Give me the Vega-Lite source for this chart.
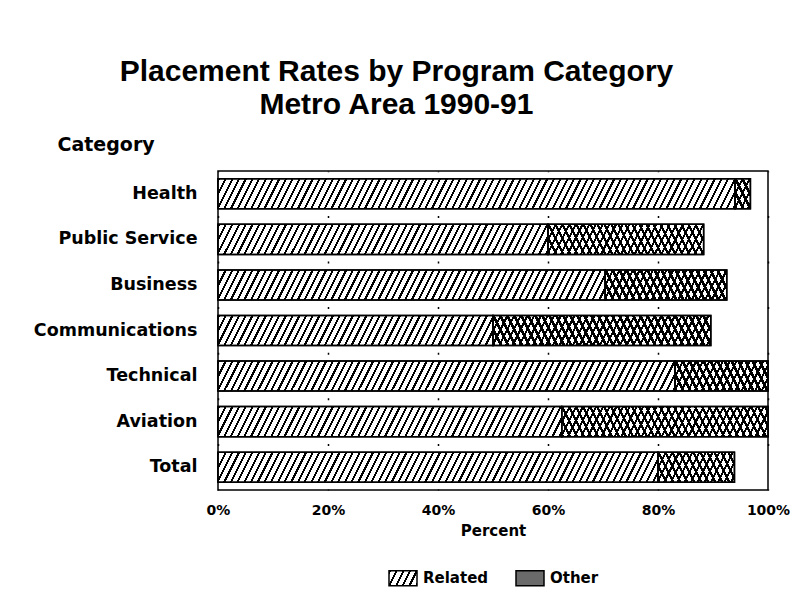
{
  "$schema": "https://vega.github.io/schema/vega-lite/v6.json",
  "width": 550,
  "height": 319,
  "autosize": {"type": "none"},
  "padding": {"left": 218, "top": 171, "right": 35, "bottom": 119},
  "background": "white",
  "title": {
    "text": ["Placement Rates by Program Category", "Metro Area 1990-91"],
    "font": "Liberation Sans", "fontSize": 30, "fontWeight": "bold", "color": "black",
    "anchor": "middle", "frame": "bounds", "lineHeight": 33, "offset": 15, "dx": -15
  },
  "params": [
    {"name": "legendA", "value": {"gradient": "linear", "x1": 0, "y1": 0, "x2": 1.34, "y2": 0.359, "stops": [
      {"offset":0,"color":"#000"},{"offset":0.0533,"color":"#000"},{"offset":0.0533,"color":"#fff"},{"offset":0.1667,"color":"#fff"},
      {"offset":0.1667,"color":"#000"},{"offset":0.22,"color":"#000"},{"offset":0.22,"color":"#fff"},{"offset":0.3333,"color":"#fff"},
      {"offset":0.3333,"color":"#000"},{"offset":0.3867,"color":"#000"},{"offset":0.3867,"color":"#fff"},{"offset":0.5,"color":"#fff"},
      {"offset":0.5,"color":"#000"},{"offset":0.5533,"color":"#000"},{"offset":0.5533,"color":"#fff"},{"offset":0.6667,"color":"#fff"},
      {"offset":0.6667,"color":"#000"},{"offset":0.72,"color":"#000"},{"offset":0.72,"color":"#fff"},{"offset":0.8333,"color":"#fff"},
      {"offset":0.8333,"color":"#000"},{"offset":0.8867,"color":"#000"},{"offset":0.8867,"color":"#fff"},{"offset":1,"color":"#fff"}
    ]}},
    {"name": "stopsA", "value": [
{"offset":0,"color":"#000"},{"offset":0.004,"color":"#000"},{"offset":0.004,"color":"#fff"},{"offset":0.0125,"color":"#fff"},
{"offset":0.0125,"color":"#000"},{"offset":0.0165,"color":"#000"},{"offset":0.0165,"color":"#fff"},{"offset":0.025,"color":"#fff"},
{"offset":0.025,"color":"#000"},{"offset":0.029,"color":"#000"},{"offset":0.029,"color":"#fff"},{"offset":0.0375,"color":"#fff"},
{"offset":0.0375,"color":"#000"},{"offset":0.0415,"color":"#000"},{"offset":0.0415,"color":"#fff"},{"offset":0.05,"color":"#fff"},
{"offset":0.05,"color":"#000"},{"offset":0.054,"color":"#000"},{"offset":0.054,"color":"#fff"},{"offset":0.0625,"color":"#fff"},
{"offset":0.0625,"color":"#000"},{"offset":0.0665,"color":"#000"},{"offset":0.0665,"color":"#fff"},{"offset":0.075,"color":"#fff"},
{"offset":0.075,"color":"#000"},{"offset":0.079,"color":"#000"},{"offset":0.079,"color":"#fff"},{"offset":0.0875,"color":"#fff"},
{"offset":0.0875,"color":"#000"},{"offset":0.0915,"color":"#000"},{"offset":0.0915,"color":"#fff"},{"offset":0.1,"color":"#fff"},
{"offset":0.1,"color":"#000"},{"offset":0.104,"color":"#000"},{"offset":0.104,"color":"#fff"},{"offset":0.1125,"color":"#fff"},
{"offset":0.1125,"color":"#000"},{"offset":0.1165,"color":"#000"},{"offset":0.1165,"color":"#fff"},{"offset":0.125,"color":"#fff"},
{"offset":0.125,"color":"#000"},{"offset":0.129,"color":"#000"},{"offset":0.129,"color":"#fff"},{"offset":0.1375,"color":"#fff"},
{"offset":0.1375,"color":"#000"},{"offset":0.1415,"color":"#000"},{"offset":0.1415,"color":"#fff"},{"offset":0.15,"color":"#fff"},
{"offset":0.15,"color":"#000"},{"offset":0.154,"color":"#000"},{"offset":0.154,"color":"#fff"},{"offset":0.1625,"color":"#fff"},
{"offset":0.1625,"color":"#000"},{"offset":0.1665,"color":"#000"},{"offset":0.1665,"color":"#fff"},{"offset":0.175,"color":"#fff"},
{"offset":0.175,"color":"#000"},{"offset":0.179,"color":"#000"},{"offset":0.179,"color":"#fff"},{"offset":0.1875,"color":"#fff"},
{"offset":0.1875,"color":"#000"},{"offset":0.1915,"color":"#000"},{"offset":0.1915,"color":"#fff"},{"offset":0.2,"color":"#fff"},
{"offset":0.2,"color":"#000"},{"offset":0.204,"color":"#000"},{"offset":0.204,"color":"#fff"},{"offset":0.2125,"color":"#fff"},
{"offset":0.2125,"color":"#000"},{"offset":0.2165,"color":"#000"},{"offset":0.2165,"color":"#fff"},{"offset":0.225,"color":"#fff"},
{"offset":0.225,"color":"#000"},{"offset":0.229,"color":"#000"},{"offset":0.229,"color":"#fff"},{"offset":0.2375,"color":"#fff"},
{"offset":0.2375,"color":"#000"},{"offset":0.2415,"color":"#000"},{"offset":0.2415,"color":"#fff"},{"offset":0.25,"color":"#fff"},
{"offset":0.25,"color":"#000"},{"offset":0.254,"color":"#000"},{"offset":0.254,"color":"#fff"},{"offset":0.2625,"color":"#fff"},
{"offset":0.2625,"color":"#000"},{"offset":0.2665,"color":"#000"},{"offset":0.2665,"color":"#fff"},{"offset":0.275,"color":"#fff"},
{"offset":0.275,"color":"#000"},{"offset":0.279,"color":"#000"},{"offset":0.279,"color":"#fff"},{"offset":0.2875,"color":"#fff"},
{"offset":0.2875,"color":"#000"},{"offset":0.2915,"color":"#000"},{"offset":0.2915,"color":"#fff"},{"offset":0.3,"color":"#fff"},
{"offset":0.3,"color":"#000"},{"offset":0.304,"color":"#000"},{"offset":0.304,"color":"#fff"},{"offset":0.3125,"color":"#fff"},
{"offset":0.3125,"color":"#000"},{"offset":0.3165,"color":"#000"},{"offset":0.3165,"color":"#fff"},{"offset":0.325,"color":"#fff"},
{"offset":0.325,"color":"#000"},{"offset":0.329,"color":"#000"},{"offset":0.329,"color":"#fff"},{"offset":0.3375,"color":"#fff"},
{"offset":0.3375,"color":"#000"},{"offset":0.3415,"color":"#000"},{"offset":0.3415,"color":"#fff"},{"offset":0.35,"color":"#fff"},
{"offset":0.35,"color":"#000"},{"offset":0.354,"color":"#000"},{"offset":0.354,"color":"#fff"},{"offset":0.3625,"color":"#fff"},
{"offset":0.3625,"color":"#000"},{"offset":0.3665,"color":"#000"},{"offset":0.3665,"color":"#fff"},{"offset":0.375,"color":"#fff"},
{"offset":0.375,"color":"#000"},{"offset":0.379,"color":"#000"},{"offset":0.379,"color":"#fff"},{"offset":0.3875,"color":"#fff"},
{"offset":0.3875,"color":"#000"},{"offset":0.3915,"color":"#000"},{"offset":0.3915,"color":"#fff"},{"offset":0.4,"color":"#fff"},
{"offset":0.4,"color":"#000"},{"offset":0.404,"color":"#000"},{"offset":0.404,"color":"#fff"},{"offset":0.4125,"color":"#fff"},
{"offset":0.4125,"color":"#000"},{"offset":0.4165,"color":"#000"},{"offset":0.4165,"color":"#fff"},{"offset":0.425,"color":"#fff"},
{"offset":0.425,"color":"#000"},{"offset":0.429,"color":"#000"},{"offset":0.429,"color":"#fff"},{"offset":0.4375,"color":"#fff"},
{"offset":0.4375,"color":"#000"},{"offset":0.4415,"color":"#000"},{"offset":0.4415,"color":"#fff"},{"offset":0.45,"color":"#fff"},
{"offset":0.45,"color":"#000"},{"offset":0.454,"color":"#000"},{"offset":0.454,"color":"#fff"},{"offset":0.4625,"color":"#fff"},
{"offset":0.4625,"color":"#000"},{"offset":0.4665,"color":"#000"},{"offset":0.4665,"color":"#fff"},{"offset":0.475,"color":"#fff"},
{"offset":0.475,"color":"#000"},{"offset":0.479,"color":"#000"},{"offset":0.479,"color":"#fff"},{"offset":0.4875,"color":"#fff"},
{"offset":0.4875,"color":"#000"},{"offset":0.4915,"color":"#000"},{"offset":0.4915,"color":"#fff"},{"offset":0.5,"color":"#fff"},
{"offset":0.5,"color":"#000"},{"offset":0.504,"color":"#000"},{"offset":0.504,"color":"#fff"},{"offset":0.5125,"color":"#fff"},
{"offset":0.5125,"color":"#000"},{"offset":0.5165,"color":"#000"},{"offset":0.5165,"color":"#fff"},{"offset":0.525,"color":"#fff"},
{"offset":0.525,"color":"#000"},{"offset":0.529,"color":"#000"},{"offset":0.529,"color":"#fff"},{"offset":0.5375,"color":"#fff"},
{"offset":0.5375,"color":"#000"},{"offset":0.5415,"color":"#000"},{"offset":0.5415,"color":"#fff"},{"offset":0.55,"color":"#fff"},
{"offset":0.55,"color":"#000"},{"offset":0.554,"color":"#000"},{"offset":0.554,"color":"#fff"},{"offset":0.5625,"color":"#fff"},
{"offset":0.5625,"color":"#000"},{"offset":0.5665,"color":"#000"},{"offset":0.5665,"color":"#fff"},{"offset":0.575,"color":"#fff"},
{"offset":0.575,"color":"#000"},{"offset":0.579,"color":"#000"},{"offset":0.579,"color":"#fff"},{"offset":0.5875,"color":"#fff"},
{"offset":0.5875,"color":"#000"},{"offset":0.5915,"color":"#000"},{"offset":0.5915,"color":"#fff"},{"offset":0.6,"color":"#fff"},
{"offset":0.6,"color":"#000"},{"offset":0.604,"color":"#000"},{"offset":0.604,"color":"#fff"},{"offset":0.6125,"color":"#fff"},
{"offset":0.6125,"color":"#000"},{"offset":0.6165,"color":"#000"},{"offset":0.6165,"color":"#fff"},{"offset":0.625,"color":"#fff"},
{"offset":0.625,"color":"#000"},{"offset":0.629,"color":"#000"},{"offset":0.629,"color":"#fff"},{"offset":0.6375,"color":"#fff"},
{"offset":0.6375,"color":"#000"},{"offset":0.6415,"color":"#000"},{"offset":0.6415,"color":"#fff"},{"offset":0.65,"color":"#fff"},
{"offset":0.65,"color":"#000"},{"offset":0.654,"color":"#000"},{"offset":0.654,"color":"#fff"},{"offset":0.6625,"color":"#fff"},
{"offset":0.6625,"color":"#000"},{"offset":0.6665,"color":"#000"},{"offset":0.6665,"color":"#fff"},{"offset":0.675,"color":"#fff"},
{"offset":0.675,"color":"#000"},{"offset":0.679,"color":"#000"},{"offset":0.679,"color":"#fff"},{"offset":0.6875,"color":"#fff"},
{"offset":0.6875,"color":"#000"},{"offset":0.6915,"color":"#000"},{"offset":0.6915,"color":"#fff"},{"offset":0.7,"color":"#fff"},
{"offset":0.7,"color":"#000"},{"offset":0.704,"color":"#000"},{"offset":0.704,"color":"#fff"},{"offset":0.7125,"color":"#fff"},
{"offset":0.7125,"color":"#000"},{"offset":0.7165,"color":"#000"},{"offset":0.7165,"color":"#fff"},{"offset":0.725,"color":"#fff"},
{"offset":0.725,"color":"#000"},{"offset":0.729,"color":"#000"},{"offset":0.729,"color":"#fff"},{"offset":0.7375,"color":"#fff"},
{"offset":0.7375,"color":"#000"},{"offset":0.7415,"color":"#000"},{"offset":0.7415,"color":"#fff"},{"offset":0.75,"color":"#fff"},
{"offset":0.75,"color":"#000"},{"offset":0.754,"color":"#000"},{"offset":0.754,"color":"#fff"},{"offset":0.7625,"color":"#fff"},
{"offset":0.7625,"color":"#000"},{"offset":0.7665,"color":"#000"},{"offset":0.7665,"color":"#fff"},{"offset":0.775,"color":"#fff"},
{"offset":0.775,"color":"#000"},{"offset":0.779,"color":"#000"},{"offset":0.779,"color":"#fff"},{"offset":0.7875,"color":"#fff"},
{"offset":0.7875,"color":"#000"},{"offset":0.7915,"color":"#000"},{"offset":0.7915,"color":"#fff"},{"offset":0.8,"color":"#fff"},
{"offset":0.8,"color":"#000"},{"offset":0.804,"color":"#000"},{"offset":0.804,"color":"#fff"},{"offset":0.8125,"color":"#fff"},
{"offset":0.8125,"color":"#000"},{"offset":0.8165,"color":"#000"},{"offset":0.8165,"color":"#fff"},{"offset":0.825,"color":"#fff"},
{"offset":0.825,"color":"#000"},{"offset":0.829,"color":"#000"},{"offset":0.829,"color":"#fff"},{"offset":0.8375,"color":"#fff"},
{"offset":0.8375,"color":"#000"},{"offset":0.8415,"color":"#000"},{"offset":0.8415,"color":"#fff"},{"offset":0.85,"color":"#fff"},
{"offset":0.85,"color":"#000"},{"offset":0.854,"color":"#000"},{"offset":0.854,"color":"#fff"},{"offset":0.8625,"color":"#fff"},
{"offset":0.8625,"color":"#000"},{"offset":0.8665,"color":"#000"},{"offset":0.8665,"color":"#fff"},{"offset":0.875,"color":"#fff"},
{"offset":0.875,"color":"#000"},{"offset":0.879,"color":"#000"},{"offset":0.879,"color":"#fff"},{"offset":0.8875,"color":"#fff"},
{"offset":0.8875,"color":"#000"},{"offset":0.8915,"color":"#000"},{"offset":0.8915,"color":"#fff"},{"offset":0.9,"color":"#fff"},
{"offset":0.9,"color":"#000"},{"offset":0.904,"color":"#000"},{"offset":0.904,"color":"#fff"},{"offset":0.9125,"color":"#fff"},
{"offset":0.9125,"color":"#000"},{"offset":0.9165,"color":"#000"},{"offset":0.9165,"color":"#fff"},{"offset":0.925,"color":"#fff"},
{"offset":0.925,"color":"#000"},{"offset":0.929,"color":"#000"},{"offset":0.929,"color":"#fff"},{"offset":0.9375,"color":"#fff"},
{"offset":0.9375,"color":"#000"},{"offset":0.9415,"color":"#000"},{"offset":0.9415,"color":"#fff"},{"offset":0.95,"color":"#fff"},
{"offset":0.95,"color":"#000"},{"offset":0.954,"color":"#000"},{"offset":0.954,"color":"#fff"},{"offset":0.9625,"color":"#fff"},
{"offset":0.9625,"color":"#000"},{"offset":0.9665,"color":"#000"},{"offset":0.9665,"color":"#fff"},{"offset":0.975,"color":"#fff"},
{"offset":0.975,"color":"#000"},{"offset":0.979,"color":"#000"},{"offset":0.979,"color":"#fff"},{"offset":0.9875,"color":"#fff"},
{"offset":0.9875,"color":"#000"},{"offset":0.9915,"color":"#000"},{"offset":0.9915,"color":"#fff"},{"offset":1,"color":"#fff"}
    ]},
    {"name": "stopsB", "value": [
{"offset":0,"color":"#000"},{"offset":0.01,"color":"#000"},{"offset":0.01,"color":"transparent"},{"offset":0.025,"color":"transparent"},
{"offset":0.025,"color":"#000"},{"offset":0.035,"color":"#000"},{"offset":0.035,"color":"transparent"},{"offset":0.05,"color":"transparent"},
{"offset":0.05,"color":"#000"},{"offset":0.06,"color":"#000"},{"offset":0.06,"color":"transparent"},{"offset":0.075,"color":"transparent"},
{"offset":0.075,"color":"#000"},{"offset":0.085,"color":"#000"},{"offset":0.085,"color":"transparent"},{"offset":0.1,"color":"transparent"},
{"offset":0.1,"color":"#000"},{"offset":0.11,"color":"#000"},{"offset":0.11,"color":"transparent"},{"offset":0.125,"color":"transparent"},
{"offset":0.125,"color":"#000"},{"offset":0.135,"color":"#000"},{"offset":0.135,"color":"transparent"},{"offset":0.15,"color":"transparent"},
{"offset":0.15,"color":"#000"},{"offset":0.16,"color":"#000"},{"offset":0.16,"color":"transparent"},{"offset":0.175,"color":"transparent"},
{"offset":0.175,"color":"#000"},{"offset":0.185,"color":"#000"},{"offset":0.185,"color":"transparent"},{"offset":0.2,"color":"transparent"},
{"offset":0.2,"color":"#000"},{"offset":0.21,"color":"#000"},{"offset":0.21,"color":"transparent"},{"offset":0.225,"color":"transparent"},
{"offset":0.225,"color":"#000"},{"offset":0.235,"color":"#000"},{"offset":0.235,"color":"transparent"},{"offset":0.25,"color":"transparent"},
{"offset":0.25,"color":"#000"},{"offset":0.26,"color":"#000"},{"offset":0.26,"color":"transparent"},{"offset":0.275,"color":"transparent"},
{"offset":0.275,"color":"#000"},{"offset":0.285,"color":"#000"},{"offset":0.285,"color":"transparent"},{"offset":0.3,"color":"transparent"},
{"offset":0.3,"color":"#000"},{"offset":0.31,"color":"#000"},{"offset":0.31,"color":"transparent"},{"offset":0.325,"color":"transparent"},
{"offset":0.325,"color":"#000"},{"offset":0.335,"color":"#000"},{"offset":0.335,"color":"transparent"},{"offset":0.35,"color":"transparent"},
{"offset":0.35,"color":"#000"},{"offset":0.36,"color":"#000"},{"offset":0.36,"color":"transparent"},{"offset":0.375,"color":"transparent"},
{"offset":0.375,"color":"#000"},{"offset":0.385,"color":"#000"},{"offset":0.385,"color":"transparent"},{"offset":0.4,"color":"transparent"},
{"offset":0.4,"color":"#000"},{"offset":0.41,"color":"#000"},{"offset":0.41,"color":"transparent"},{"offset":0.425,"color":"transparent"},
{"offset":0.425,"color":"#000"},{"offset":0.435,"color":"#000"},{"offset":0.435,"color":"transparent"},{"offset":0.45,"color":"transparent"},
{"offset":0.45,"color":"#000"},{"offset":0.46,"color":"#000"},{"offset":0.46,"color":"transparent"},{"offset":0.475,"color":"transparent"},
{"offset":0.475,"color":"#000"},{"offset":0.485,"color":"#000"},{"offset":0.485,"color":"transparent"},{"offset":0.5,"color":"transparent"},
{"offset":0.5,"color":"#000"},{"offset":0.51,"color":"#000"},{"offset":0.51,"color":"transparent"},{"offset":0.525,"color":"transparent"},
{"offset":0.525,"color":"#000"},{"offset":0.535,"color":"#000"},{"offset":0.535,"color":"transparent"},{"offset":0.55,"color":"transparent"},
{"offset":0.55,"color":"#000"},{"offset":0.56,"color":"#000"},{"offset":0.56,"color":"transparent"},{"offset":0.575,"color":"transparent"},
{"offset":0.575,"color":"#000"},{"offset":0.585,"color":"#000"},{"offset":0.585,"color":"transparent"},{"offset":0.6,"color":"transparent"},
{"offset":0.6,"color":"#000"},{"offset":0.61,"color":"#000"},{"offset":0.61,"color":"transparent"},{"offset":0.625,"color":"transparent"},
{"offset":0.625,"color":"#000"},{"offset":0.635,"color":"#000"},{"offset":0.635,"color":"transparent"},{"offset":0.65,"color":"transparent"},
{"offset":0.65,"color":"#000"},{"offset":0.66,"color":"#000"},{"offset":0.66,"color":"transparent"},{"offset":0.675,"color":"transparent"},
{"offset":0.675,"color":"#000"},{"offset":0.685,"color":"#000"},{"offset":0.685,"color":"transparent"},{"offset":0.7,"color":"transparent"},
{"offset":0.7,"color":"#000"},{"offset":0.71,"color":"#000"},{"offset":0.71,"color":"transparent"},{"offset":0.725,"color":"transparent"},
{"offset":0.725,"color":"#000"},{"offset":0.735,"color":"#000"},{"offset":0.735,"color":"transparent"},{"offset":0.75,"color":"transparent"},
{"offset":0.75,"color":"#000"},{"offset":0.76,"color":"#000"},{"offset":0.76,"color":"transparent"},{"offset":0.775,"color":"transparent"},
{"offset":0.775,"color":"#000"},{"offset":0.785,"color":"#000"},{"offset":0.785,"color":"transparent"},{"offset":0.8,"color":"transparent"},
{"offset":0.8,"color":"#000"},{"offset":0.81,"color":"#000"},{"offset":0.81,"color":"transparent"},{"offset":0.825,"color":"transparent"},
{"offset":0.825,"color":"#000"},{"offset":0.835,"color":"#000"},{"offset":0.835,"color":"transparent"},{"offset":0.85,"color":"transparent"},
{"offset":0.85,"color":"#000"},{"offset":0.86,"color":"#000"},{"offset":0.86,"color":"transparent"},{"offset":0.875,"color":"transparent"},
{"offset":0.875,"color":"#000"},{"offset":0.885,"color":"#000"},{"offset":0.885,"color":"transparent"},{"offset":0.9,"color":"transparent"},
{"offset":0.9,"color":"#000"},{"offset":0.91,"color":"#000"},{"offset":0.91,"color":"transparent"},{"offset":0.925,"color":"transparent"},
{"offset":0.925,"color":"#000"},{"offset":0.935,"color":"#000"},{"offset":0.935,"color":"transparent"},{"offset":0.95,"color":"transparent"},
{"offset":0.95,"color":"#000"},{"offset":0.96,"color":"#000"},{"offset":0.96,"color":"transparent"},{"offset":0.975,"color":"transparent"},
{"offset":0.975,"color":"#000"},{"offset":0.985,"color":"#000"},{"offset":0.985,"color":"transparent"},{"offset":1,"color":"transparent"}
    ]}
  ],
  "data": {"values": [
    {"Category": "Health", "Type": "Related", "value": 94},
    {"Category": "Health", "Type": "Other", "value": 2.8},
    {"Category": "Public Service", "Type": "Related", "value": 60},
    {"Category": "Public Service", "Type": "Other", "value": 28.3},
    {"Category": "Business", "Type": "Related", "value": 70.4},
    {"Category": "Business", "Type": "Other", "value": 22.1},
    {"Category": "Communications", "Type": "Related", "value": 50},
    {"Category": "Communications", "Type": "Other", "value": 39.6},
    {"Category": "Technical", "Type": "Related", "value": 83.1},
    {"Category": "Technical", "Type": "Other", "value": 16.9},
    {"Category": "Aviation", "Type": "Related", "value": 62.5},
    {"Category": "Aviation", "Type": "Other", "value": 37.5},
    {"Category": "Total", "Type": "Related", "value": 80},
    {"Category": "Total", "Type": "Other", "value": 13.9}
  ]},
  "transform": [
    {"stack": "value", "groupby": ["Category"], "sort": [{"field": "Type", "order": "descending"}], "as": ["lo", "hi"]},
    {"calculate": "(datum.hi - datum.lo) * 5.5", "as": "w"},
    {"calculate": "datum.w * datum.w + 226.5", "as": "d"},
    {"calculate": "{gradient: 'linear', x1: 0, y1: 0, x2: 536 * datum.w / datum.d, y2: 536 * 15.05 / datum.d, stops: stopsA}", "as": "gA"},
    {"calculate": "datum.Type == 'Other' ? {gradient: 'linear', x1: 0, y1: 1, x2: 280 * datum.w / datum.d, y2: 1 - 280 * 15.05 / datum.d, stops: stopsB} : 'transparent'", "as": "gB"}
  ],
  "encoding": {
    "y": {
      "field": "Category", "type": "nominal",
      "sort": ["Health", "Public Service", "Business", "Communications", "Technical", "Aviation", "Total"],
      "scale": {"paddingInner": 0.34, "paddingOuter": 0.17},
      "axis": {
        "title": "Category", "titleAngle": 0, "titleAlign": "left", "titleBaseline": "alphabetic",
        "titleX": -161, "titleY": -21, "titleFont": "DejaVu Sans", "titleFontSize": 19, "titleFontWeight": "bold", "titleColor": "black",
        "labelFont": "DejaVu Sans", "labelFontSize": 17.5, "labelFontWeight": "bold", "labelColor": "black",
        "labelPadding": 21, "ticks": false, "domain": false, "grid": false
      }
    },
    "x": {
      "field": "lo", "type": "quantitative",
      "scale": {"domain": [0, 100], "nice": false},
      "axis": {
        "values": [0, 20, 40, 60, 80, 100], "labelExpr": "datum.value + '%'",
        "title": "Percent", "titleFont": "DejaVu Sans", "titleFontSize": 15, "titleFontWeight": "bold", "titleColor": "black", "titlePadding": 6,
        "labelFont": "DejaVu Sans", "labelFontSize": 14, "labelFontWeight": "bold", "labelColor": "black", "labelFlush": false,
        "labelPadding": 13, "ticks": false, "domain": false,
        "grid": true, "gridColor": "black", "gridWidth": 1.5, "gridDash": [2, 43.6], "gridDashOffset": -44.6, "gridOpacity": 1
      }
    }
  },
  "layer": [
    {
      "mark": {"type": "bar", "stroke": "black", "strokeWidth": 1.5},
      "encoding": {"x2": {"field": "hi"}, "fill": {"field": "gA", "type": "nominal", "scale": null}}
    },
    {
      "mark": {"type": "bar", "stroke": "black", "strokeWidth": 1.5},
      "encoding": {"x2": {"field": "hi"}, "fill": {"field": "gB", "type": "nominal", "scale": null}}
    },
    {
      "mark": {"type": "point", "filled": true, "size": 0},
      "encoding": {
        "color": {
          "field": "Type", "type": "nominal",
          "scale": {"domain": ["Related", "Other"], "range": [{"expr": "legendA"}, "#6a6a6a"]},
          "legend": {
            "title": null, "orient": "bottom", "direction": "horizontal",
            "symbolType": "M-1,-0.536H1V0.536H-1Z", "symbolSize": 784,
            "symbolStrokeColor": "black", "symbolStrokeWidth": 1.5, "symbolOpacity": 1,
            "labelFont": "DejaVu Sans", "labelFontSize": 15, "labelFontWeight": "bold", "labelColor": "black",
            "labelOffset": 5, "columnPadding": 24, "offset": 25
          }
        }
      }
    }
  ],
  "config": {
    "view": {"stroke": "black", "strokeWidth": 1.5},
    "legend": {"layout": {"bottom": {"anchor": "middle"}}}
  }
}
